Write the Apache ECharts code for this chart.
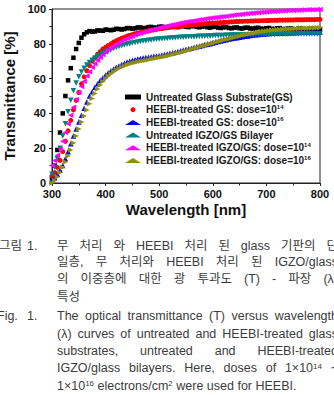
<!DOCTYPE html>
<html>
<head>
<meta charset="utf-8">
<script src="https://cdn.jsdelivr.net/npm/echarts@6/dist/echarts.min.js"></script>
<style>
html, body { margin: 0; padding: 0; background: #fff; }
#chart { width: 334px; height: 395px; }
</style>
</head>
<body>
<div id="chart"></div>
<script>
// ======================
// DATA
// ======================

const wavelength = [
    300, 305, 310, 315, 320, 325, 330, 335, 340, 345, 350, 355, 360, 365, 370, 375, 380, 385, 390, 395,
    400, 405, 410, 415, 420, 425, 430, 435, 440, 445, 450, 455, 460, 465, 470, 475, 480, 485, 490, 495,
    500, 505, 510, 515, 520, 525, 530, 535, 540, 545, 550, 555, 560, 565, 570, 575, 580, 585, 590, 595,
    600, 605, 610, 615, 620, 625, 630, 635, 640, 645, 650, 655, 660, 665, 670, 675, 680, 685, 690, 695,
    700, 705, 710, 715, 720, 725, 730, 735, 740, 745, 750, 755, 760, 765, 770, 775, 780, 785, 790, 795, 800
];

const untreatedGS = [
    3, 10, 19, 29, 40, 50, 59, 66, 72, 77, 80.5, 83.5, 85.5, 86.6, 87.3, 87.0, 87.1, 87.7, 87.6, 87.5,
    88.2, 88.0, 87.8, 88.1, 88.6, 88.5, 88.2, 88.5, 89.0, 89.0, 88.7, 88.9, 89.4, 89.4, 89.0, 89.1, 89.6, 89.7, 89.3, 89.3,
    89.8, 89.9, 89.5, 89.5, 90.0, 90.1, 89.7, 89.6, 90.1, 90.2, 89.8, 89.6, 90.1, 90.2, 89.7, 89.5, 89.9, 90.0, 89.5, 89.3,
    89.7, 89.8, 89.3, 89.1, 89.5, 89.6, 89.1, 88.9, 89.3, 89.4, 88.9, 88.8, 89.2, 89.3, 88.8, 88.7, 89.1, 89.2, 88.7, 88.6,
    89.0, 89.1, 88.6, 88.5, 88.9, 89.0, 88.5, 88.4, 88.8, 88.9, 88.4, 88.3, 88.7, 88.8, 88.3, 88.2, 88.6, 88.6, 88.2, 88.1, 88.5
];

const gsDose14 = [
    4, 6, 9, 13, 18, 24, 30, 36, 42, 47.5, 52, 57, 61, 64.5, 67.5, 70, 72, 74, 75.5, 77,
    78, 79, 80, 81, 81.8, 82.5, 83.2, 83.8, 84.4, 84.9, 85.3, 85.8, 86.2, 86.6, 86.9, 87.2, 87.5, 87.8, 88.1, 88.3,
    88.6, 88.8, 89.0, 89.2, 89.4, 89.6, 89.8, 90.0, 90.1, 90.3, 90.5, 90.6, 90.8, 90.9, 91.1, 91.2, 91.4, 91.5, 91.6, 91.8,
    91.9, 92.0, 92.1, 92.2, 92.3, 92.4, 92.5, 92.6, 92.7, 92.8, 92.9, 92.9, 93.0, 93.0, 93.1, 93.1, 93.2, 93.2, 93.3, 93.3,
    93.4, 93.4, 93.5, 93.5, 93.5, 93.6, 93.6, 93.6, 93.7, 93.7, 93.7, 93.8, 93.8, 93.8, 93.8, 93.9, 93.9, 93.9, 93.9, 94.0, 94.0
];

const gsDose16 = [
    2, 3, 5, 7.5, 10, 14, 18, 22.5, 27, 31, 35, 39, 43, 46.5, 50, 52.5, 55, 57, 59, 60.5,
    62, 63.3, 64.5, 65.5, 66.5, 67.3, 68.1, 68.8, 69.5, 70, 70.5, 70.9, 71.3, 71.6, 71.9, 72.1, 72.3, 72.5, 72.8, 73,
    73.2, 73.5, 73.8, 74.1, 74.5, 74.9, 75.2, 75.6, 76, 76.4, 76.8, 77.1, 77.5, 77.9, 78.3, 78.6, 79, 79.4, 79.8, 80.1,
    80.5, 80.9, 81.3, 81.6, 82, 82.3, 82.7, 83, 83.3, 83.5, 83.8, 84, 84.3, 84.5, 84.7, 85, 85.2, 85.3, 85.5, 85.6,
    85.8, 85.9, 86, 86, 86.1, 86.2, 86.2, 86.3, 86.3, 86.4, 86.4, 86.5, 86.5, 86.6, 86.6, 86.6, 86.7, 86.7, 86.7, 86.8, 86.8
];

const untreatedIGZO = [
    5, 9, 14, 20, 27, 34, 41, 47.5, 53, 57.5, 61, 63.8, 66, 67.8, 69.3, 70.6, 71.7, 72.7, 73.6, 74.5,
    75.3, 76, 76.7, 77.3, 77.9, 78.4, 78.9, 79.3, 79.7, 80.1, 80.4, 80.7, 81, 81.3, 81.6, 81.8, 82, 82.2, 82.4, 82.6,
    82.8, 82.9, 83, 83.1, 83.3, 83.4, 83.5, 83.6, 83.7, 83.8, 83.9, 84, 84.1, 84.1, 84.2, 84.3, 84.4, 84.4, 84.5, 84.5,
    84.6, 84.7, 84.7, 84.8, 84.8, 84.9, 84.9, 85, 85, 85, 85.1, 85.1, 85.1, 85.2, 85.2, 85.2, 85.3, 85.3, 85.3, 85.3,
    85.4, 85.4, 85.4, 85.4, 85.5, 85.5, 85.5, 85.5, 85.5, 85.6, 85.6, 85.6, 85.6, 85.6, 85.7, 85.7, 85.7, 85.7, 85.7, 85.7, 85.7
];

const igzoDose14 = [
    10, 13, 16, 19.5, 24, 29, 34, 39, 43.5, 48, 52, 55.5, 58.5, 61.5, 64, 66.5, 68.5, 70.5, 72.3, 73.9,
    75.3, 76.6, 77.8, 78.9, 79.9, 80.8, 81.6, 82.4, 83.1, 83.8, 84.4, 85, 85.6, 86.1, 86.6, 87.1, 87.6, 88, 88.4, 88.8,
    89.2, 89.6, 89.9, 90.3, 90.6, 91, 91.3, 91.6, 91.9, 92.2, 92.5, 92.8, 93, 93.3, 93.5, 93.8, 94, 94.3, 94.5, 94.7,
    94.9, 95.1, 95.3, 95.5, 95.7, 95.9, 96.1, 96.3, 96.5, 96.7, 96.8, 97, 97.2, 97.3, 97.5, 97.6, 97.8, 97.9, 98.1, 98.2,
    98.3, 98.4, 98.5, 98.6, 98.7, 98.8, 98.9, 99, 99.1, 99.1, 99.2, 99.3, 99.3, 99.4, 99.4, 99.5, 99.5, 99.6, 99.6, 99.7, 99.7
];

const igzoDose16 = [
    0, 1.5, 3.5, 6, 9, 12, 15.5, 19, 23, 27, 31, 35, 38.5, 42, 45.5, 48.5, 51.5, 54, 56.3, 58.3,
    60, 61.5, 62.8, 63.9, 64.9, 65.8, 66.6, 67.3, 67.9, 68.4, 68.9, 69.3, 69.7, 70, 70.3, 70.6, 70.9, 71.2, 71.5, 71.8,
    72.1, 72.4, 72.7, 73.0, 73.4, 73.8, 74.2, 74.6, 75.0, 75.4, 75.8, 76.3, 76.8, 77.2, 77.7, 78.1, 78.6, 79, 79.5, 79.9,
    80.3, 80.7, 81.2, 81.6, 82, 82.4, 82.8, 83.2, 83.6, 84, 84.4, 84.8, 85.1, 85.5, 85.8, 86.1, 86.4, 86.7, 87, 87.2,
    87.4, 87.6, 87.8, 87.9, 88.1, 88.2, 88.3, 88.4, 88.5, 88.6, 88.7, 88.8, 88.8, 88.9, 88.9, 89, 89, 89.1, 89.1, 89.2, 89.2
];

const seriesNames = [
    'Untreated Glass Substrate(GS)',
    'HEEBI-treated GS: dose=10^14',
    'HEEBI-treated GS: dose=10^16',
    'Untreated IGZO/GS Bilayer',
    'HEEBI-treated IGZO/GS: dose=10^14',
    'HEEBI-treated IGZO/GS: dose=10^16'
];
const seriesValues = [untreatedGS, gsDose14, gsDose16, untreatedIGZO, igzoDose14, igzoDose16];

// marker style per series (symbol, rotate, size, color)
const seriesStyles = [
    { symbol: 'rect', rotate: 0, size: 4.5, color: '#000000' },
    { symbol: 'circle', rotate: 0, size: 5, color: '#ff0000' },
    { symbol: 'triangle', rotate: 0, size: 5.5, color: '#0000ff' },
    { symbol: 'triangle', rotate: 180, size: 5.5, color: '#008080' },
    { symbol: 'triangle', rotate: 90, size: 5.5, color: '#ff00ff' },
    { symbol: 'triangle', rotate: -90, size: 5.5, color: '#8f8f10' }
];

// caption (figure text below the chart)
const captionRows = [
    { y: 245.5, heads: [['그림', -1], ['1.', 27]], text: '무 처리 와 HEEBI 처리 된 glass 기판의 단', justify: true },
    { y: 262, text: '일층, 무 처리와 HEEBI 처리 된 IGZO/glass', justify: true },
    { y: 278.5, text: '의 이중층에 대한 광 투과도 (T) - 파장 (λ)', justify: true },
    { y: 297, text: '특성', justify: false },
    { y: 316, heads: [['Fig.', -3], ['1.', 27]], text: 'The optical transmittance (T) versus wavelength', justify: true },
    { y: 333.5, text: '(λ) curves of untreated and HEEBI-treated glass', justify: true },
    { y: 351, text: 'substrates, untreated and HEEBI-treated', justify: true },
    { y: 368.3, text: 'IGZO/glass bilayers. Here, doses of 1×10^14 ~', justify: true },
    { y: 386, text: '1×10^16 electrons/cm^2 were used for HEEBI.', justify: false }
];

// ======================
// CONFIG
// ======================

const FONT = '"Liberation Sans", Arial, "Noto Sans CJK KR", sans-serif';
const CAPTION_SIZE = 12.5;
const CAPTION_SUP = 8;
const CAPTION_LEFT = 57;
const CAPTION_RIGHT = 338;
const CAPTION_COLOR = '#3c3c3c';

const measureCtx = document.createElement('canvas').getContext('2d');

function textWidth(str, size) {
    measureCtx.font = size + 'px ' + FONT;
    return measureCtx.measureText(str).width;
}

// "1×10^14" -> base + superscript
function wordWidth(word) {
    const [base, sup] = word.split('^');
    return textWidth(base, CAPTION_SIZE) + (sup ? textWidth(sup, CAPTION_SUP) : 0);
}

function wordText(word) {
    const [base, sup] = word.split('^');
    return sup ? base + '{sup|' + sup + '}' : base;
}

function captionText(str, x, y) {
    return {
        type: 'text',
        x: x,
        y: y,
        silent: true,
        style: {
            text: wordText(str),
            fill: CAPTION_COLOR,
            fontSize: CAPTION_SIZE,
            fontFamily: FONT,
            verticalAlign: 'middle',
            rich: {
                sup: {
                    fontSize: CAPTION_SUP,
                    fontFamily: FONT,
                    fill: CAPTION_COLOR,
                    verticalAlign: 'top',
                    padding: [0, 0, 4, 0]
                }
            }
        }
    };
}

function buildCaption() {
    const elements = [];
    captionRows.forEach(row => {
        (row.heads || []).forEach(([t, x]) => elements.push(captionText(t, x, row.y)));
        const words = row.text.split(' ');
        const widths = words.map(wordWidth);
        const total = widths.reduce((a, b) => a + b, 0);
        const gap = row.justify && words.length > 1
            ? (CAPTION_RIGHT - CAPTION_LEFT - total) / (words.length - 1)
            : textWidth(' ', CAPTION_SIZE);
        let x = CAPTION_LEFT;
        words.forEach((w, i) => {
            elements.push(captionText(w, x, row.y));
            x += widths[i] + gap;
        });
    });
    return elements;
}

function getChartOption() {
    const axisCommon = {
        type: 'value',
        nameLocation: 'middle',
        nameTextStyle: { fontFamily: FONT, fontSize: 15, fontWeight: 'bold', color: '#111' },
        axisLine: { show: true, lineStyle: { color: '#222', width: 1 } },
        axisTick: { show: true, inside: false, length: 3, lineStyle: { color: '#222' } },
        minorTick: { show: true, splitNumber: 2, length: 2.5, lineStyle: { color: '#222' } },
        splitLine: { show: false },
        axisLabel: { fontFamily: FONT, fontSize: 11, fontWeight: 'bold', color: '#111' }
    };

    return {
        animation: false,
        backgroundColor: '#fff',
        grid: {
            left: 52, right: 14, top: 9, bottom: 212,
            show: true, borderColor: '#222', borderWidth: 1,
            outerBoundsMode: 'none'
        },
        xAxis: Object.assign({}, axisCommon, {
            min: 300, max: 800, interval: 100,
            name: 'Wavelength [nm]',
            nameGap: 19,
            axisLabel: Object.assign({}, axisCommon.axisLabel, { margin: 5 })
        }),
        yAxis: Object.assign({}, axisCommon, {
            min: 0, max: 100, interval: 20,
            name: 'Transmittance [%]',
            nameGap: 28,
            axisLabel: Object.assign({}, axisCommon.axisLabel, { margin: 6 })
        }),
        legend: {
            orient: 'vertical',
            left: 125,
            top: 91,
            itemWidth: 16,
            itemHeight: 5,
            itemGap: 0.7,
            padding: 0,
            selectedMode: false,
            data: seriesNames,
            formatter: name => name.replace(/\^(\d+)/, '{sup|$1}'),
            textStyle: {
                fontFamily: FONT,
                fontSize: 10,
                fontWeight: 'bold',
                color: '#1a1a1a',
                lineHeight: 12,
                rich: {
                    sup: {
                        fontFamily: FONT,
                        fontSize: 6,
                        fontWeight: 'bold',
                        color: '#1a1a1a',
                        verticalAlign: 'top',
                        lineHeight: 8
                    }
                }
            }
        },
        series: seriesNames.map((name, i) => ({
            name: name,
            type: 'scatter',
            symbol: seriesStyles[i].symbol,
            symbolRotate: seriesStyles[i].rotate,
            symbolSize: seriesStyles[i].size,
            itemStyle: { color: seriesStyles[i].color, opacity: 1 },
            emphasis: { disabled: true },
            data: wavelength.map((w, j) => [w, seriesValues[i][j]])
        })),
        graphic: buildCaption()
    };
}

// ======================
// INIT
// ======================

const chart = echarts.init(document.getElementById('chart'), null, { renderer: 'svg' });
chart.setOption(getChartOption());
</script>
</body>
</html>
